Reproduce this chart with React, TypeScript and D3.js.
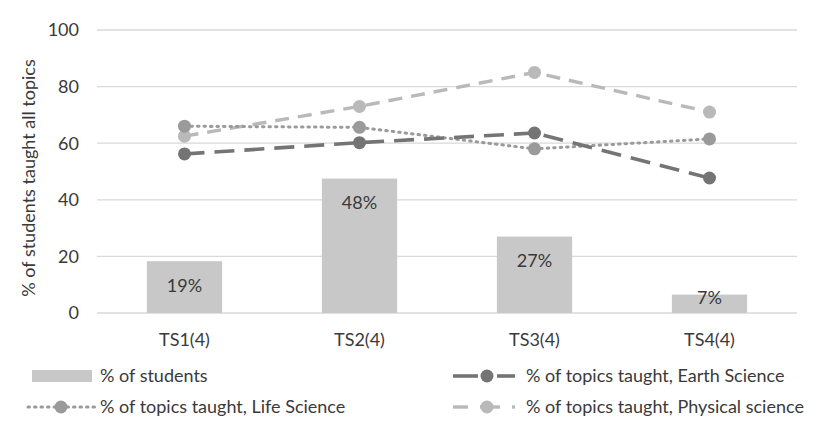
import React from "react";
import * as d3 from "d3";

const categories = ["TS1(4)", "TS2(4)", "TS3(4)", "TS4(4)"];
const studentPct = [18.3, 47.5, 27, 6.5];
const studentLabels = ["19%", "48%", "27%", "7%"];
const earthScience = [56.2, 60.2, 63.6, 47.7];
const lifeScience = [66, 65.6, 58, 61.5];
const physicalScience = [62.5, 73, 85, 71];
const yTicks = [0, 20, 40, 60, 80, 100];

const W = 834;
const H = 437;
const font = "Lato, 'Open Sans', sans-serif";
const fs = 18;
const txt = "#3a3a3a";

export default function App() {
  const x = d3.scaleBand().domain(categories).range([97, 797]).paddingInner(0.57).paddingOuter(0.285);
  const y = d3.scaleLinear().domain([0, 100]).range([313, 30]);
  const cx = (c: string) => (x(c) as number) + x.bandwidth() / 2;
  const line = d3.line<number>().x((_, i) => cx(categories[i])).y((d) => y(d));

  const series = [
    { data: physicalScience, color: "#b9b9b9", dash: "14,9", width: 3.4 },
    { data: lifeScience, color: "#9a9a9a", dash: "1.5,5", width: 3 },
    { data: earthScience, color: "#747474", dash: "20,10", width: 3.6 },
  ];

  return (
    <svg width={W} height={H} style={{ position: "absolute", left: 0, top: 0, background: "#fff" }}>
      <rect width={W} height={H} fill="#fff" />
      {yTicks.map((t) => (
        <g key={t}>
          <line x1={97} x2={797} y1={y(t)} y2={y(t)} stroke="#d9d9d9" strokeWidth={1.3} />
          <text x={79} y={y(t)} dy="0.35em" textAnchor="end" fontFamily={font} fontSize={fs} fill={txt}>
            {t}
          </text>
        </g>
      ))}
      <text
        transform={`translate(29,${178}) rotate(-90)`}
        textAnchor="middle"
        dy="0.35em"
        fontFamily={font}
        fontSize={fs}
        fill={txt}
      >
        % of students taught all topics
      </text>
      {categories.map((c, i) => (
        <g key={c}>
          <rect x={x(c)} y={y(studentPct[i])} width={x.bandwidth()} height={y(0) - y(studentPct[i])} fill="#c8c8c8" />
          <text
            x={cx(c)}
            y={i === 3 ? y(studentPct[i]) + 3 : y(studentPct[i]) + 24}
            dy="0.35em"
            textAnchor="middle"
            fontFamily={font}
            fontSize={fs}
            fill={txt}
          >
            {studentLabels[i]}
          </text>
          <text x={cx(c)} y={340} dy="0.35em" textAnchor="middle" fontFamily={font} fontSize={fs} fill={txt}>
            {c}
          </text>
        </g>
      ))}
      {series.map((s, k) => (
        <g key={k}>
          <path d={line(s.data) as string} fill="none" stroke={s.color} strokeWidth={s.width} strokeDasharray={s.dash} strokeLinecap={k === 1 ? "round" : "butt"} />
          {s.data.map((v, i) => (
            <circle key={i} cx={cx(categories[i])} cy={y(v)} r={6.5} fill={s.color} />
          ))}
        </g>
      ))}
      {/* Legend */}
      <g fontFamily={font} fontSize={fs} fill={txt}>
        <rect x={32} y={370} width={60} height={12} fill="#c8c8c8" />
        <text x={100} y={376} dy="0.35em">% of students</text>

        <line x1={453} x2={478} y1={376} y2={376} stroke="#747474" strokeWidth={3.6} />
        <line x1={497} x2={515} y1={376} y2={376} stroke="#747474" strokeWidth={3.6} />
        <circle cx={487} cy={376} r={6.5} fill="#747474" />
        <text x={526} y={376} dy="0.35em">% of topics taught, Earth Science</text>

        <line x1={28} x2={97} y1={407} y2={407} stroke="#9a9a9a" strokeWidth={3} strokeDasharray="1.5,5" strokeLinecap="round" />
        <circle cx={61} cy={407} r={6.5} fill="#9a9a9a" />
        <text x={100} y={407} dy="0.35em">% of topics taught, Life Science</text>

        <line x1={453} x2={468} y1={407} y2={407} stroke="#b9b9b9" strokeWidth={3.4} />
        <line x1={480} x2={500} y1={407} y2={407} stroke="#b9b9b9" strokeWidth={3.4} />
        <line x1={512} x2={515} y1={407} y2={407} stroke="#b9b9b9" strokeWidth={3.4} />
        <circle cx={487} cy={407} r={6.5} fill="#b9b9b9" />
        <text x={526} y={407} dy="0.35em">% of topics taught, Physical science</text>
      </g>
    </svg>
  );
}
